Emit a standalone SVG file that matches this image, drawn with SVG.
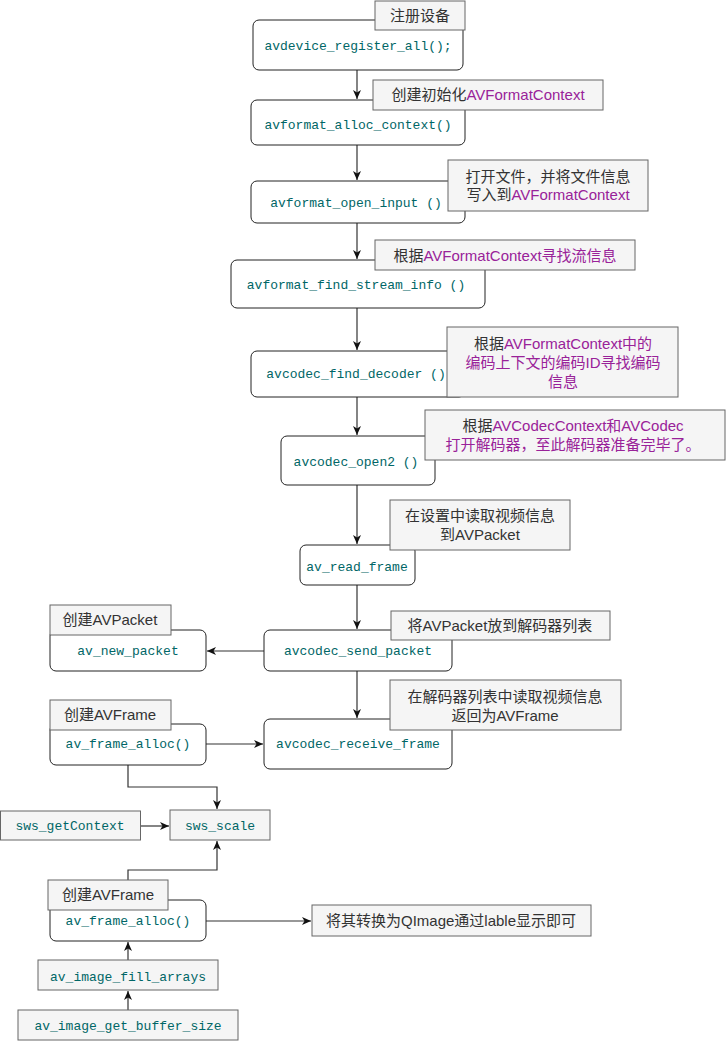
<svg xmlns="http://www.w3.org/2000/svg" width="726" height="1041" viewBox="0 0 726 1041">
<style>
.node{fill:#fff;stroke:#222;stroke-width:1}
.box{fill:#f5f5f5;stroke:#666;stroke-width:1}
.code{font-family:"Liberation Mono","Noto Sans CJK SC",monospace;font-size:13px;fill:#006666;text-anchor:middle}
.lbl{font-family:"Liberation Sans","Noto Sans CJK SC",sans-serif;font-size:15px;fill:#333;text-anchor:middle}
.p{fill:#992299}
.edge{fill:none;stroke:#333;stroke-width:1.2}
</style>
<defs>
<marker id="arr" markerUnits="userSpaceOnUse" markerWidth="10" markerHeight="10" refX="9" refY="5" orient="auto">
<path d="M0,1 L9,5 L0,9 L2.5,5 z" fill="#111"/>
</marker>
</defs>
<g id="connectors">
<path class="edge" d="M357,70 V99" marker-end="url(#arr)"/>
<path class="edge" d="M357,145 V180" marker-end="url(#arr)"/>
<path class="edge" d="M357,223 V259" marker-end="url(#arr)"/>
<path class="edge" d="M357,308 V350" marker-end="url(#arr)"/>
<path class="edge" d="M357,397 V435" marker-end="url(#arr)"/>
<path class="edge" d="M357,485 V544" marker-end="url(#arr)"/>
<path class="edge" d="M357,585 V629" marker-end="url(#arr)"/>
<path class="edge" d="M357,671 V718" marker-end="url(#arr)"/>
<path class="edge" d="M264,651 H207" marker-end="url(#arr)"/>
<path class="edge" d="M206,744 H263" marker-end="url(#arr)"/>
<path class="edge" d="M128,765 V787 H217 V809" marker-end="url(#arr)"/>
<path class="edge" d="M140,826 H169" marker-end="url(#arr)"/>
<path class="edge" d="M128,900 V870 H217 V841" marker-end="url(#arr)"/>
<path class="edge" d="M206,921 H311" marker-end="url(#arr)"/>
<path class="edge" d="M128,960 V942" marker-end="url(#arr)"/>
<path class="edge" d="M128,1010 V991" marker-end="url(#arr)"/>
</g>
<g id="n1"><rect class="node" x="253" y="20" width="210" height="50" rx="6"/><text class="code" x="358" y="50">avdevice_register_all();</text></g>
<g id="n2"><rect class="node" x="251" y="100" width="214" height="45" rx="6"/><text class="code" x="358" y="129">avformat_alloc_context()</text></g>
<g id="n3"><rect class="node" x="251" y="181" width="214" height="42" rx="6"/><text class="code" x="356" y="207">avformat_open_input ()</text></g>
<g id="n4"><rect class="node" x="231" y="260" width="254" height="48" rx="6"/><text class="code" x="356" y="289">avformat_find_stream_info ()</text></g>
<g id="n5"><rect class="node" x="251" y="351" width="214" height="46" rx="6"/><text class="code" x="356" y="378">avcodec_find_decoder ()</text></g>
<g id="n6"><rect class="node" x="281" y="436" width="154" height="49" rx="6"/><text class="code" x="356" y="466">avcodec_open2 ()</text></g>
<g id="n7"><rect class="node" x="300" y="545" width="115" height="40" rx="6"/><text class="code" x="357" y="571">av_read_frame</text></g>
<g id="n8"><rect class="node" x="264" y="630" width="188" height="41" rx="6"/><text class="code" x="358" y="655">avcodec_send_packet</text></g>
<g id="n9"><rect class="node" x="50" y="630" width="156" height="41" rx="6"/><text class="code" x="128" y="655">av_new_packet</text></g>
<g id="n10"><rect class="node" x="50" y="724" width="156" height="41" rx="6"/><text class="code" x="128" y="748">av_frame_alloc()</text></g>
<g id="n11"><rect class="node" x="264" y="719" width="188" height="50" rx="6"/><text class="code" x="358" y="748">avcodec_receive_frame</text></g>
<g id="n12"><rect class="box" x="0.5" y="811" width="140" height="29"/><text class="code" x="70" y="830">sws_getContext</text></g>
<g id="n13"><rect class="box" x="170" y="810" width="100" height="30"/><text class="code" x="220" y="830">sws_scale</text></g>
<g id="n14"><rect class="node" x="50" y="900" width="156" height="41" rx="6"/><text class="code" x="128" y="925">av_frame_alloc()</text></g>
<g id="n15"><rect class="box" x="38" y="960" width="180" height="30"/><text class="code" x="128" y="981">av_image_fill_arrays</text></g>
<g id="n16"><rect class="box" x="18" y="1010" width="220" height="30"/><text class="code" x="128" y="1030">av_image_get_buffer_size</text></g>
<g id="n17"><rect class="box" x="312" y="905" width="279" height="31"/><text class="lbl" x="451" y="926">将其转换为QImage通过lable显示即可</text></g>
<g id="l1"><rect class="box" x="375" y="1" width="90" height="29"/><text class="lbl" x="420" y="21">注册设备</text></g>
<g id="l2"><rect class="box" x="373" y="80" width="230" height="30"/><text class="lbl" x="488" y="100">创建初始化<tspan class="p">AVFormatContext</tspan></text></g>
<g id="l3"><rect class="box" x="448" y="160" width="200" height="51"/><text class="lbl" x="548" y="182">打开文件，并将文件信息</text><text class="lbl" x="548" y="200">写入到<tspan class="p">AVFormatContext</tspan></text></g>
<g id="l4"><rect class="box" x="375" y="240" width="260" height="30"/><text class="lbl" x="505" y="261">根据<tspan class="p">AVFormatContext寻找流信息</tspan></text></g>
<g id="l5"><rect class="box" x="447" y="327" width="231" height="70"/><text class="lbl" x="563" y="349">根据<tspan class="p">AVFormatContext中的</tspan></text><text class="lbl p" x="563" y="368">编码上下文的编码ID寻找编码</text><text class="lbl p" x="563" y="387">信息</text></g>
<g id="l6"><rect class="box" x="425" y="410" width="300" height="50"/><text class="lbl" x="573" y="431">根据<tspan class="p">AVCodecContext和AVCodec</tspan></text><text class="lbl p" x="573" y="450">打开解码器，至此解码器准备完毕了。</text></g>
<g id="l7"><rect class="box" x="390" y="500" width="180" height="50"/><text class="lbl" x="480" y="521">在设置中读取视频信息</text><text class="lbl" x="480" y="540">到AVPacket</text></g>
<g id="l8"><rect class="box" x="391" y="611" width="219" height="29"/><text class="lbl" x="500" y="631">将AVPacket放到解码器列表</text></g>
<g id="l9"><rect class="box" x="390" y="680" width="231" height="50"/><text class="lbl" x="505" y="702">在解码器列表中读取视频信息</text><text class="lbl" x="505" y="721">返回为AVFrame</text></g>
<g id="l10"><rect class="box" x="50" y="605" width="121" height="30"/><text class="lbl" x="110" y="625">创建AVPacket</text></g>
<g id="l11"><rect class="box" x="50" y="700" width="121" height="30"/><text class="lbl" x="110" y="720">创建AVFrame</text></g>
<g id="l12"><rect class="box" x="48" y="880" width="120" height="30"/><text class="lbl" x="108" y="900">创建AVFrame</text></g>
</svg>
